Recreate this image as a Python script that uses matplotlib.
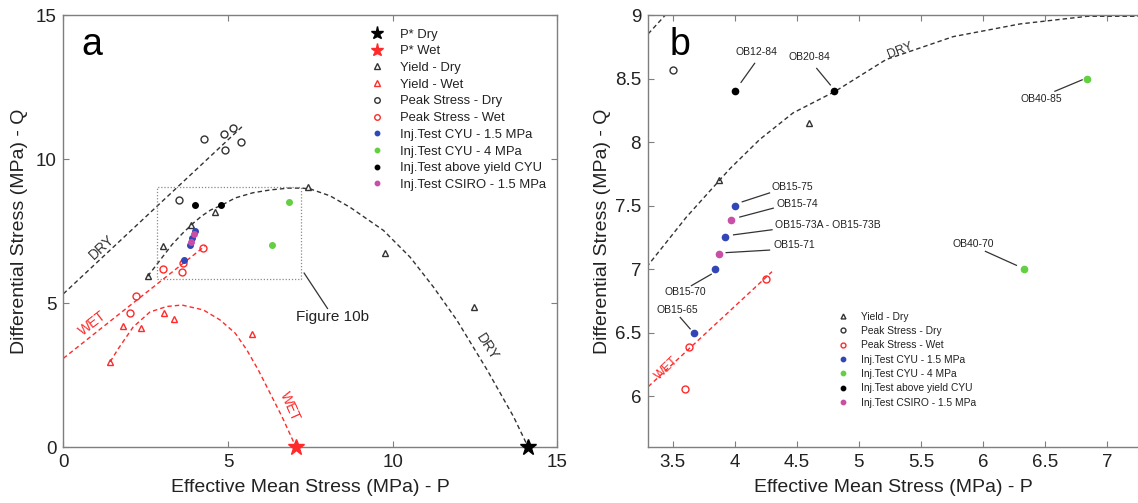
import numpy as np
import matplotlib
matplotlib.use('Agg')
import matplotlib.pyplot as plt
from matplotlib.ticker import FormatStrFormatter, MultipleLocator

plt.rcParams['font.family'] = ['Liberation Sans', 'DejaVu Sans']

# 1. Data (P = effective mean stress, Q = differential stress, MPa)
pstar_dry_p, pstar_dry_q = [14.11], [0.0]
pstar_wet_p, pstar_wet_q = [7.06], [0.0]

yield_dry_p = [2.56, 3.03, 3.87, 4.6, 7.43, 9.77, 12.48]
yield_dry_q = [5.93, 6.97, 7.7, 8.15, 9.02, 6.75, 4.85]
yield_wet_p = [1.42, 1.82, 2.35, 3.07, 3.37, 5.72]
yield_wet_q = [2.96, 4.21, 4.14, 4.64, 4.43, 3.91]
peak_dry_p = [3.5, 4.28, 4.89, 4.9, 5.15, 5.39]
peak_dry_q = [8.57, 10.71, 10.87, 10.31, 11.07, 10.59]
peak_wet_p = [2.02, 2.2, 3.03, 3.6, 3.63, 4.25]
peak_wet_q = [4.66, 5.25, 6.19, 6.06, 6.39, 6.92]

inj_cyu15_p = [3.67, 3.84, 3.92, 4.0]
inj_cyu15_q = [6.5, 7.0, 7.25, 7.5]
inj_cyu4_p = [6.33, 6.84]
inj_cyu4_q = [7.0, 8.5]
inj_above_p = [4.0, 4.8]
inj_above_q = [8.4, 8.4]
inj_csiro_p = [3.87, 3.97]
inj_csiro_q = [7.12, 7.39]

# sample names shown in panel b
sample_names = ['OB12-84', 'OB20-84', 'OB40-85', 'OB15-75', 'OB15-74',
                'OB15-73A - OB15-73B', 'OB15-71', 'OB40-70', 'OB15-70', 'OB15-65']

# envelope curves
peak_line_dry_p = [0.0, 5.45]
peak_line_dry_q = [5.32, 11.15]
peak_line_wet_p = [0.0, 4.3]
peak_line_wet_q = [3.08, 6.98]
cap_dry_p = [2.56, 3.3, 3.61, 3.96, 4.2, 4.47, 4.81, 5.22, 5.76, 6.3, 6.84, 7.25,
             7.5, 8.1, 8.71, 9.72, 10.53, 11.24, 11.95, 12.87, 13.67, 14.11]
cap_dry_q = [5.93, 7.03, 7.41, 7.79, 8.02, 8.23, 8.4, 8.65, 8.83, 8.93, 8.99, 8.99,
             8.96, 8.72, 8.32, 7.52, 6.59, 5.55, 4.4, 2.67, 1.05, 0.0]
cap_wet_p = [1.42, 1.67, 2.12, 2.63, 3.14, 3.6, 4.25, 4.76, 5.22, 5.57, 5.92,
             6.28, 6.64, 7.06]
cap_wet_q = [2.96, 3.42, 4.17, 4.69, 4.88, 4.93, 4.76, 4.41, 3.95, 3.37, 2.67,
             1.86, 1.05, 0.0]

# 2. Colours
DRY = '#333333'
WET = '#ff2a2a'
BLUE = '#3346b5'
GREEN = '#63cf42'
MAGENTA = '#c94fa6'
SPINE = '#7f7f7f'
TXT = '#222222'


def style_axes(ax):
    """MATLAB-like box: inward ticks on all sides, grey frame"""
    for s in ax.spines.values():
        s.set_color(SPINE)
        s.set_linewidth(1.0)
    ax.tick_params(direction='in', top=True, right=True, length=4,
                   color=SPINE, labelcolor=TXT, labelsize=13.5, pad=5)
    ax.xaxis.set_major_formatter(FormatStrFormatter('%g'))
    ax.yaxis.set_major_formatter(FormatStrFormatter('%g'))
    ax.set_xlabel('Effective Mean Stress (MPa) - P', fontsize=14, color=TXT)
    ax.set_ylabel('Differential Stress (MPa) - Q', fontsize=14, color=TXT)


def draw_envelopes(ax):
    dash = (0, (3.2, 2.2))
    ax.plot(peak_line_dry_p, peak_line_dry_q, color=DRY, ls=dash, lw=1.0)
    ax.plot(peak_line_wet_p, peak_line_wet_q, color=WET, ls=dash, lw=1.0)
    ax.plot(cap_dry_p, cap_dry_q, color=DRY, ls=dash, lw=1.0)
    ax.plot(cap_wet_p, cap_wet_q, color=WET, ls=dash, lw=1.0)


def draw_points(ax, ms_open, ms_dot, with_stars):
    if with_stars:
        ax.plot(pstar_dry_p, pstar_dry_q, '*', color='k', ms=12, clip_on=False,
                zorder=6, label='P* Dry')
        ax.plot(pstar_wet_p, pstar_wet_q, '*', color=WET, ms=12, clip_on=False,
                zorder=6, label='P* Wet')
    ax.plot(yield_dry_p, yield_dry_q, '^', mfc='none', mec=DRY, mew=1.0,
            ms=ms_open, ls='none', label='Yield - Dry')
    if with_stars:
        ax.plot(yield_wet_p, yield_wet_q, '^', mfc='none', mec=WET, mew=1.0,
                ms=ms_open, ls='none', label='Yield - Wet')
    ax.plot(peak_dry_p, peak_dry_q, 'o', mfc='none', mec=DRY, mew=1.0,
            ms=ms_open, ls='none', label='Peak Stress - Dry')
    ax.plot(peak_wet_p, peak_wet_q, 'o', mfc='none', mec=WET, mew=1.0,
            ms=ms_open, ls='none', label='Peak Stress - Wet')
    ax.plot(inj_cyu15_p, inj_cyu15_q, 'o', color=BLUE, ms=ms_dot, ls='none',
            label='Inj.Test CYU - 1.5 MPa', zorder=4)
    ax.plot(inj_cyu4_p, inj_cyu4_q, 'o', color=GREEN, ms=ms_dot, ls='none',
            label='Inj.Test CYU - 4 MPa', zorder=4)
    ax.plot(inj_above_p, inj_above_q, 'o', color='k', ms=ms_dot, ls='none',
            label='Inj.Test above yield CYU', zorder=4)
    ax.plot(inj_csiro_p, inj_csiro_q, 'o', color=MAGENTA, ms=ms_dot, ls='none',
            label='Inj.Test CSIRO - 1.5 MPa', zorder=4)


# 3. Figure
fig = plt.figure(figsize=(11.38, 5.03), dpi=100)
ax_a = fig.add_axes([0.0557, 0.1113, 0.4341, 0.8588])
ax_b = fig.add_axes([0.5694, 0.1113, 0.4306, 0.8588])

# ---- panel a ----
draw_envelopes(ax_a)
draw_points(ax_a, ms_open=5, ms_dot=4, with_stars=True)
ax_a.plot([2.84, 7.21, 7.21, 2.84, 2.84], [5.83, 5.83, 9.04, 9.04, 5.83],
          color='#8a8a8a', ls=(0, (1, 1.5)), lw=0.9)
ax_a.plot([7.31, 8.02], [6.04, 4.81], color='#333333', lw=0.9)
ax_a.text(8.18, 4.51, 'Figure 10b', fontsize=11, color=TXT, ha='center', va='center')
ax_a.text(1.16, 6.95, 'DRY', fontsize=10, color=DRY, rotation=43, ha='center', va='center')
ax_a.text(0.88, 4.29, 'WET', fontsize=10, color=WET, rotation=38, ha='center', va='center')
ax_a.text(12.87, 3.47, 'DRY', fontsize=10, color=DRY, rotation=-57, ha='center', va='center')
ax_a.text(6.87, 1.4, 'WET', fontsize=10, color=WET, rotation=-66, ha='center', va='center')
ax_a.text(0.057, 0.93, 'a', transform=ax_a.transAxes, fontsize=27, ha='center', va='center')
ax_a.set_xlim(0, 15)
ax_a.set_ylim(0, 15)
ax_a.xaxis.set_major_locator(MultipleLocator(5))
ax_a.yaxis.set_major_locator(MultipleLocator(5))
style_axes(ax_a)
ax_a.legend(loc='upper left', bbox_to_anchor=(0.6, 0.99), frameon=False, fontsize=9.4,
            labelspacing=0.35, handlelength=1.2, handletextpad=1.2, borderpad=0.2,
            labelcolor=TXT, markerscale=0.8)

# ---- panel b ----
draw_envelopes(ax_b)
draw_points(ax_b, ms_open=5, ms_dot=4.5, with_stars=False)
ax_b.text(5.33, 8.72, 'DRY', fontsize=9, color=DRY, rotation=21, ha='center', va='center')
ax_b.text(3.45, 6.22, 'WET', fontsize=9, color=WET, rotation=44, ha='center', va='center')
ax_b.text(0.065, 0.93, 'b', transform=ax_b.transAxes, fontsize=27, ha='center', va='center')

# leader lines: text anchor, line start, line end
label_layout = [
    ((4.175, 8.71), (4.16, 8.62), (4.05, 8.47)),
    ((4.6, 8.67), (4.66, 8.58), (4.77, 8.45)),
    ((6.47, 8.34), (6.58, 8.40), (6.80, 8.49)),
    ((4.46, 7.65), (4.28, 7.60), (4.06, 7.53)),
    ((4.50, 7.51), (4.31, 7.48), (4.04, 7.41)),
    ((4.75, 7.35), (4.30, 7.31), (3.99, 7.27)),
    ((4.48, 7.19), (4.28, 7.15), (3.93, 7.13)),
    ((5.92, 7.20), (6.02, 7.14), (6.27, 7.03)),
    ((3.60, 6.82), (3.65, 6.87), (3.81, 6.96)),
    ((3.54, 6.68), (3.56, 6.62), (3.64, 6.53)),
]
for name, (txt, l0, l1) in zip(sample_names, label_layout):
    ax_b.plot([l0[0], l1[0]], [l0[1], l1[1]], color='#333333', lw=0.9)
    ax_b.text(txt[0], txt[1], name, fontsize=7.5, color=TXT, ha='center', va='center')

ax_b.set_xlim(3.3, 7.25)
ax_b.set_ylim(5.6, 9.0)
ax_b.xaxis.set_major_locator(MultipleLocator(0.5))
ax_b.yaxis.set_major_locator(MultipleLocator(0.5))
style_axes(ax_b)
ax_b.spines['right'].set_visible(False)
ax_b.tick_params(right=False)
ax_b.legend(loc='upper left', bbox_to_anchor=(0.37, 0.33), frameon=False, fontsize=7.4,
            labelspacing=0.42, handlelength=1.2, handletextpad=1.2, borderpad=0.2,
            labelcolor=TXT, markerscale=0.7)

ax_a.xaxis.set_label_coords(0.5, -0.075)
ax_b.xaxis.set_label_coords(0.5, -0.075)
ax_a.yaxis.set_label_coords(-0.072, 0.5)
ax_b.yaxis.set_label_coords(-0.075, 0.5)

fig.savefig('out.png', dpi=100)
